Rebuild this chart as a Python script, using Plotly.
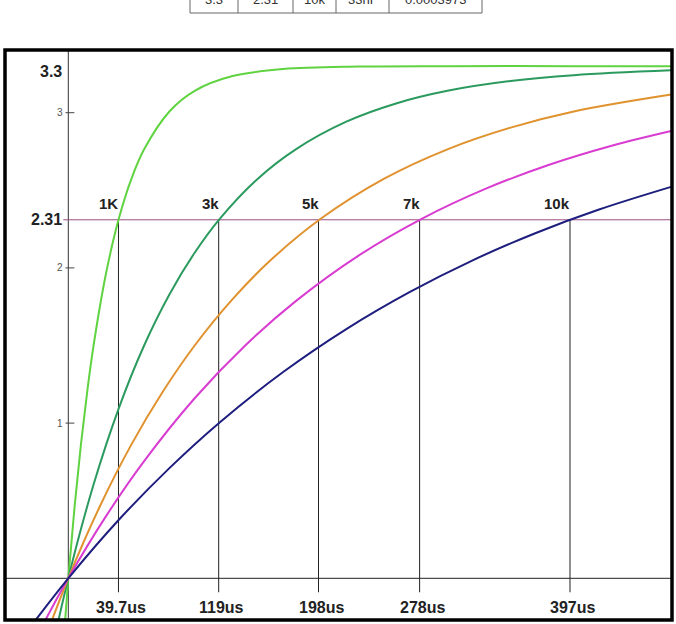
import plotly.graph_objects as go

# ---- data (time in us, voltage in V) ----
t_1k = [-15, -10, -5, 0, 5, 10, 15, 20, 30, 40, 50, 60, 80, 100, 130, 170, 230, 300, 400, 477]
v_1k = [-1.899, -1.168, -0.540, 0, 0.464, 0.863, 1.205, 1.500, 1.970, 2.318, 2.575, 2.764,
        3.008, 3.141, 3.236, 3.281, 3.297, 3.300, 3.300, 3.300]

t_3k = [-40, -20, 0, 20, 40, 60, 80, 100, 120, 150, 180, 220, 260, 300, 350, 400, 477]
v_3k = [-1.643, -0.739, 0, 0.604, 1.097, 1.500, 1.829, 2.098, 2.318, 2.575, 2.764, 2.942,
        3.061, 3.141, 3.204, 3.242, 3.273]

t_5k = [-50, -25, 0, 25, 50, 75, 100, 130, 160, 200, 250, 300, 350, 400, 477]
v_5k = [-1.168, -0.540, 0, 0.464, 0.863, 1.205, 1.500, 1.799, 2.049, 2.318, 2.575, 2.764,
        2.904, 3.008, 3.117]

t_7k = [-50, -25, 0, 30, 60, 100, 140, 180, 230, 280, 330, 380, 430, 477]
v_7k = [-0.798, -0.377, 0, 0.402, 0.755, 1.160, 1.500, 1.786, 2.081, 2.318, 2.509, 2.663,
        2.787, 2.882]

t_10k = [-50, -25, 0, 40, 80, 120, 170, 220, 270, 320, 370, 420, 477]
v_10k = [-0.540, -0.260, 0, 0.377, 0.710, 1.006, 1.329, 1.606, 1.844, 2.049, 2.225, 2.376, 2.522]

r_labels = ["1K", "3k", "5k", "7k", "10k"]
cross_t = [39.7, 119, 198, 278, 397]
cross_labels = ["39.7us", "119us", "198us", "278us", "397us"]
v_supply = 3.3
v_thresh = 2.31
y_ticks = [1, 2, 3]
table_cells = ["3.3", "2.31", "10k", "33nF", "0.0003973"]

colors = ["#5fd340", "#2b9a5e", "#e0922e", "#d83cd0", "#1e1e7e"]

curves = [(t_1k, v_1k), (t_3k, v_3k), (t_5k, v_5k), (t_7k, v_7k), (t_10k, v_10k)]

fig = go.Figure()
for (tt, vv), c, name in zip(curves, colors, r_labels):
    fig.add_trace(go.Scatter(x=tt, y=vv, mode="lines", name=name,
                             line=dict(color=c, width=2, shape="spline", smoothing=1.0),
                             hoverinfo="skip", showlegend=False))

shapes = []
# axes lines
shapes.append(dict(type="line", xref="x", yref="paper", x0=0, x1=0, y0=0, y1=1,
                   line=dict(color="#333333", width=1), layer="below"))
shapes.append(dict(type="line", xref="paper", yref="y", x0=0, x1=1, y0=0, y1=0,
                   line=dict(color="#222222", width=1), layer="below"))
# threshold line
shapes.append(dict(type="line", xref="x", yref="y", x0=-4, x1=478, y0=v_thresh, y1=v_thresh,
                   line=dict(color="#9a4f80", width=1), layer="below"))
# vertical lines at crossing times
for ct in cross_t:
    shapes.append(dict(type="line", xref="x", yref="y", x0=ct, x1=ct, y0=v_thresh, y1=-0.09,
                       line=dict(color="#222222", width=1), layer="below"))
# y ticks
for yt in y_ticks:
    shapes.append(dict(type="line", xref="x", yref="y", x0=-2.2, x1=4.8, y0=yt, y1=yt,
                       line=dict(color="#444444", width=1), layer="below"))
# frame
shapes.append(dict(type="rect", xref="paper", yref="paper", x0=0, x1=1, y0=0, y1=1,
                   line=dict(color="black", width=3.5)))

# top table (paper coords; plot area 5..672 px wide, 50..620 px tall)
def px_x(p):
    return (p - 5) / 667.0

def px_y(p):
    return (620 - p) / 570.0

cell_edges = [190, 238, 293, 336, 389, 482]
shapes.append(dict(type="rect", xref="paper", yref="paper",
                   x0=px_x(cell_edges[0]), x1=px_x(cell_edges[-1]),
                   y0=px_y(13), y1=px_y(-10), line=dict(color="#666666", width=1)))
for e in cell_edges[1:-1]:
    shapes.append(dict(type="line", xref="paper", yref="paper", x0=px_x(e), x1=px_x(e),
                       y0=px_y(13), y1=px_y(-10), line=dict(color="#666666", width=1)))

annotations = []
for i, txt in enumerate(table_cells):
    cx = (cell_edges[i] + cell_edges[i + 1]) / 2.0
    annotations.append(dict(xref="paper", yref="paper", x=px_x(cx), y=px_y(0),
                            text=txt, showarrow=False, xanchor="center", yanchor="middle",
                            font=dict(family="Liberation Sans, Arial", size=13, color="#333333")))

bold = dict(family="Liberation Sans, Arial", size=15, color="#222222")
bold_t = dict(family="Liberation Sans, Arial", size=16, color="#222222")
# R labels
for ct, lab in zip(cross_t, r_labels):
    annotations.append(dict(xref="x", yref="y", x=ct, y=v_thresh, text="<b>%s</b>" % lab,
                            showarrow=False, xanchor="right", yanchor="middle",
                            xshift=2, yshift=16, font=bold))
# time labels
for ct, lab in zip(cross_t, cross_labels):
    annotations.append(dict(xref="x", yref="paper", x=ct, y=px_y(607), text="<b>%s</b>" % lab,
                            showarrow=False, xanchor="center", yanchor="middle",
                            xshift=3, font=bold_t))
# voltage labels
annotations.append(dict(xref="x", yref="y", x=0, y=v_supply, text="<b>3.3</b>", showarrow=False,
                        xanchor="right", yanchor="middle", xshift=-4, yshift=-5, font=bold_t))
annotations.append(dict(xref="x", yref="y", x=0, y=v_thresh, text="<b>2.31</b>", showarrow=False,
                        xanchor="right", yanchor="middle", xshift=-4, yshift=0, font=bold_t))
for yt in y_ticks:
    annotations.append(dict(xref="x", yref="y", x=0, y=yt, text=str(yt), showarrow=False,
                            xanchor="right", yanchor="middle", xshift=-3,
                            font=dict(family="Liberation Sans, Arial", size=10, color="#555555")))

x_left = (5 - 68.3) / 1.2637
x_right = (672 - 68.3) / 1.2637
y_top = (578.3 - 50) / 155.2
y_bot = (578.3 - 620) / 155.2

fig.update_layout(
    width=676, height=624,
    margin=dict(l=5, r=4, t=50, b=4),
    paper_bgcolor="white", plot_bgcolor="white",
    xaxis=dict(range=[x_left, x_right], visible=False, showgrid=False, zeroline=False),
    yaxis=dict(range=[y_bot, y_top], visible=False, showgrid=False, zeroline=False),
    shapes=shapes, annotations=annotations, showlegend=False,
)

fig.write_html("out.html")
